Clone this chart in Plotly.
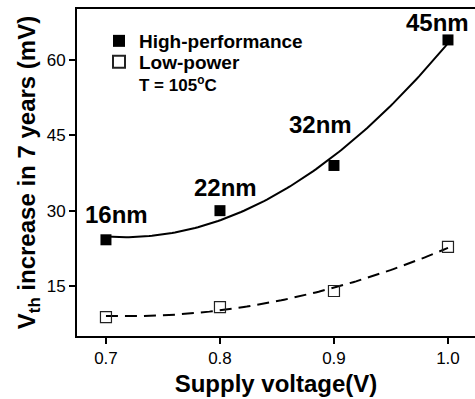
import numpy as np
import plotly.graph_objects as go

# ---- data ----
voltage = [0.7, 0.8, 0.9, 1.0]
hp_vth = [24.2, 30.0, 39.0, 64.0]      # High-performance
lp_vth = [8.8, 10.8, 14.0, 22.8]       # Low-power
nodes = ["16nm", "22nm", "32nm", "45nm"]
node_label_x = [0.709, 0.805, 0.888, 0.991]
node_label_y = [29.3, 34.7, 47.1, 67.4]
x_ticks = [0.7, 0.8, 0.9, 1.0]
y_ticks = [15, 30, 45, 60]

# quadratic fits of each series
xf = np.linspace(0.7, 1.0, 120)
hp_fit = np.polyval(np.polyfit(voltage, hp_vth, 2), xf)
lp_fit = np.polyval(np.polyfit(voltage, lp_vth, 2), xf)

FONT = "Liberation Sans, Arial, sans-serif"
PL, PT, PW, PH = 77, 9, 398, 327  # plot area in px


def px(x):
    return (x - PL) / PW


def py(y):
    return (PT + PH - y) / PH


fig = go.Figure()
fig.add_trace(go.Scatter(x=xf, y=hp_fit, mode="lines", showlegend=False,
                         line=dict(color="black", width=2), hoverinfo="skip"))
fig.add_trace(go.Scatter(x=xf, y=lp_fit, mode="lines", showlegend=False,
                         line=dict(color="black", width=2, dash="12px,7px"), hoverinfo="skip"))
fig.add_trace(go.Scatter(x=voltage, y=hp_vth, mode="markers", name="<b>High-performance</b>",
                         legend="legend",
                         marker=dict(symbol="square", size=11, color="black")))
fig.add_trace(go.Scatter(x=voltage, y=lp_vth, mode="markers", name="<b>Low-power</b>",
                         legend="legend2",
                         marker=dict(symbol="square-open", size=11, color="#222",
                                     line=dict(width=1.2, color="#222"))))

for t, x, y in zip(nodes, node_label_x, node_label_y):
    fig.add_annotation(x=x, y=y, text=f"<b>{t}</b>", showarrow=False,
                       font=dict(family=FONT, size=24, color="black"),
                       xanchor="center", yanchor="middle")

fig.add_annotation(xref="paper", yref="paper", x=px(137), y=py(84),
                   text="<b>T = 105<sup>o</sup>C</b>", showarrow=False,
                   font=dict(family=FONT, size=17, color="black"),
                   xanchor="left", yanchor="middle")

leg = dict(xanchor="left", yanchor="middle", bgcolor="rgba(0,0,0,0)",
           font=dict(family=FONT, size=19, color="black"), itemsizing="constant")
fig.update_layout(
    width=475, height=399,
    margin=dict(l=PL, r=0, t=PT, b=399 - PT - PH),
    paper_bgcolor="white", plot_bgcolor="white",
    font=dict(family=FONT, color="black"),
    legend=dict(x=px(99), y=py(41), **leg),
    legend2=dict(x=px(99), y=py(62), **leg),
)
fig.update_xaxes(range=[0.6746, 1.0237], tickvals=x_ticks, ticktext=[f"{v:.1f}" for v in x_ticks],
                 showline=True, linecolor="black", linewidth=2, mirror=True,
                 ticks="outside", ticklen=6, tickwidth=1.5, tickcolor="black",
                 showgrid=False, zeroline=False,
                 tickfont=dict(family=FONT, size=17, color="black"),
                 title=dict(text="<b>Supply voltage(V)</b>", standoff=8,
                            font=dict(family=FONT, size=24, color="black")))
fig.update_yaxes(range=[5.04, 70.16], tickvals=y_ticks,
                 showline=True, linecolor="black", linewidth=2, mirror=False,
                 ticks="outside", ticklen=6, tickwidth=1.5, tickcolor="black",
                 showgrid=False, zeroline=False,
                 tickfont=dict(family=FONT, size=17, color="black"),
                 title=dict(text="<b>V<sub>th</sub> increase in 7 years (mV)</b>", standoff=4,
                            font=dict(family=FONT, size=24, color="black")))

fig.write_html("out.html")
